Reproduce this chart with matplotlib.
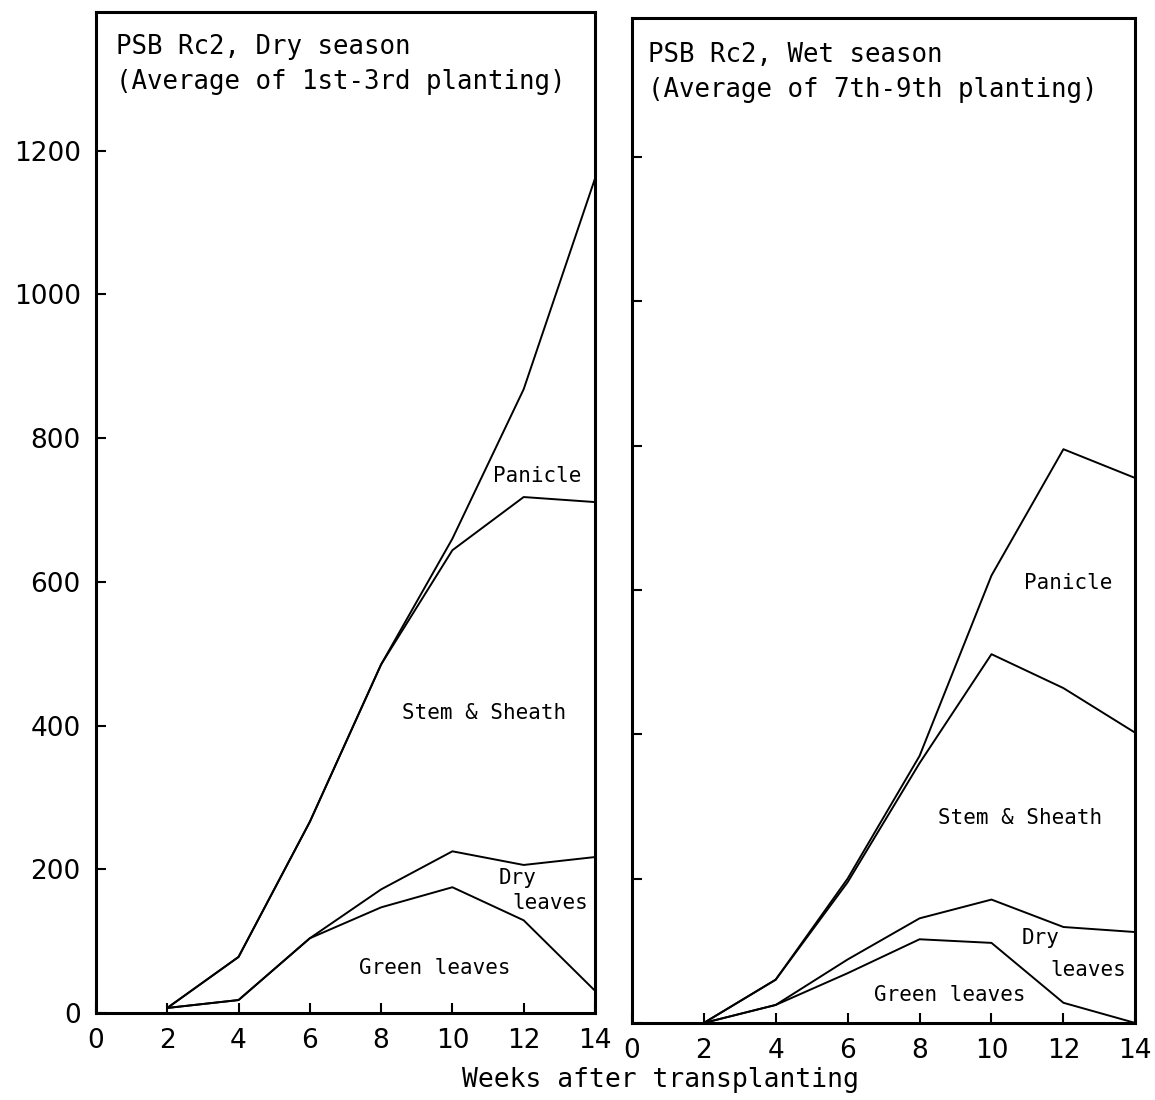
import matplotlib
matplotlib.use("Agg")
import matplotlib.pyplot as plt

# Weeks after transplanting
weeks = [2, 4, 6, 8, 10, 12, 14]

# Dry season (average of 1st-3rd planting), cumulative dry weight
dry_total = [7, 78, 266, 485, 660, 868, 1161]
dry_stem = [7, 78, 266, 485, 644, 718, 711]
dry_dead = [7, 18, 104, 172, 225, 206, 217]
dry_green = [7, 18, 104, 147, 175, 129, 31]

# Wet season (average of 7th-9th planting)
wet_total = [0, 60, 200, 370, 620, 795, 755]
wet_stem = [0, 60, 195, 360, 511, 464, 402]
wet_dead = [0, 25, 88, 145, 171, 133, 126]
wet_green = [0, 25, 69, 116, 111, 28, 0]

xticks = [0, 2, 4, 6, 8, 10, 12, 14]
yticks = [0, 200, 400, 600, 800, 1000, 1200]

mono = "DejaVu Sans Mono"
fig = plt.figure(figsize=(11.55, 11), dpi=100)

ax1 = fig.add_axes([0.0831, 0.0791, 0.432, 0.910])
ax2 = fig.add_axes([0.547, 0.070, 0.436, 0.914])


def style_axis(ax, show_ylabels):
    ax.set_xlim(0, 14)
    ax.set_ylim(0, 1393)
    ax.set_xticks(xticks)
    ax.set_yticks(yticks)
    ax.tick_params(direction="in", length=7, width=1.5, labelsize=19,
                   top=False, right=False)
    ax.tick_params(axis="x", pad=11)
    ax.tick_params(axis="y", pad=11)
    if not show_ylabels:
        ax.set_yticklabels([])
    for s in ax.spines.values():
        s.set_linewidth(2.2)
        s.set_color("black")


for ax, series in [(ax1, (dry_total, dry_stem, dry_dead, dry_green)),
                   (ax2, (wet_total, wet_stem, wet_dead, wet_green))]:
    for ys in series:
        ax.plot(weeks, ys, color="black", linewidth=1.4, clip_on=False)

style_axis(ax1, True)
style_axis(ax2, False)

# Panel titles
ax1.text(0.04, 0.978, "PSB Rc2, Dry season\n(Average of 1st-3rd planting)",
         transform=ax1.transAxes, ha="left", va="top", family=mono,
         fontsize=18.5, linespacing=1.45)
ax2.text(0.032, 0.976, "PSB Rc2, Wet season\n(Average of 7th-9th planting)",
         transform=ax2.transAxes, ha="left", va="top", family=mono,
         fontsize=18.5, linespacing=1.45)

# Component labels
lab = dict(family=mono, fontsize=15, ha="center", va="center")
ax1.text(12.37, 747, "Panicle", **lab)
ax1.text(10.89, 417, "Stem & Sheath", **lab)
ax1.text(11.84, 188, "Dry", **lab)
ax1.text(12.74, 153, "leaves", **lab)
ax1.text(9.51, 63, "Green leaves", **lab)

ax2.text(12.13, 609, "Panicle", **lab)
ax2.text(10.8, 284, "Stem & Sheath", **lab)
ax2.text(11.36, 118, "Dry", **lab)
ax2.text(12.69, 73, "leaves", **lab)
ax2.text(8.85, 39, "Green leaves", **lab)

fig.text(660 / 1155, 1 - 1080 / 1100, "Weeks after transplanting",
         family=mono, fontsize=19, ha="center", va="center")

fig.savefig("out.png", dpi=100)
